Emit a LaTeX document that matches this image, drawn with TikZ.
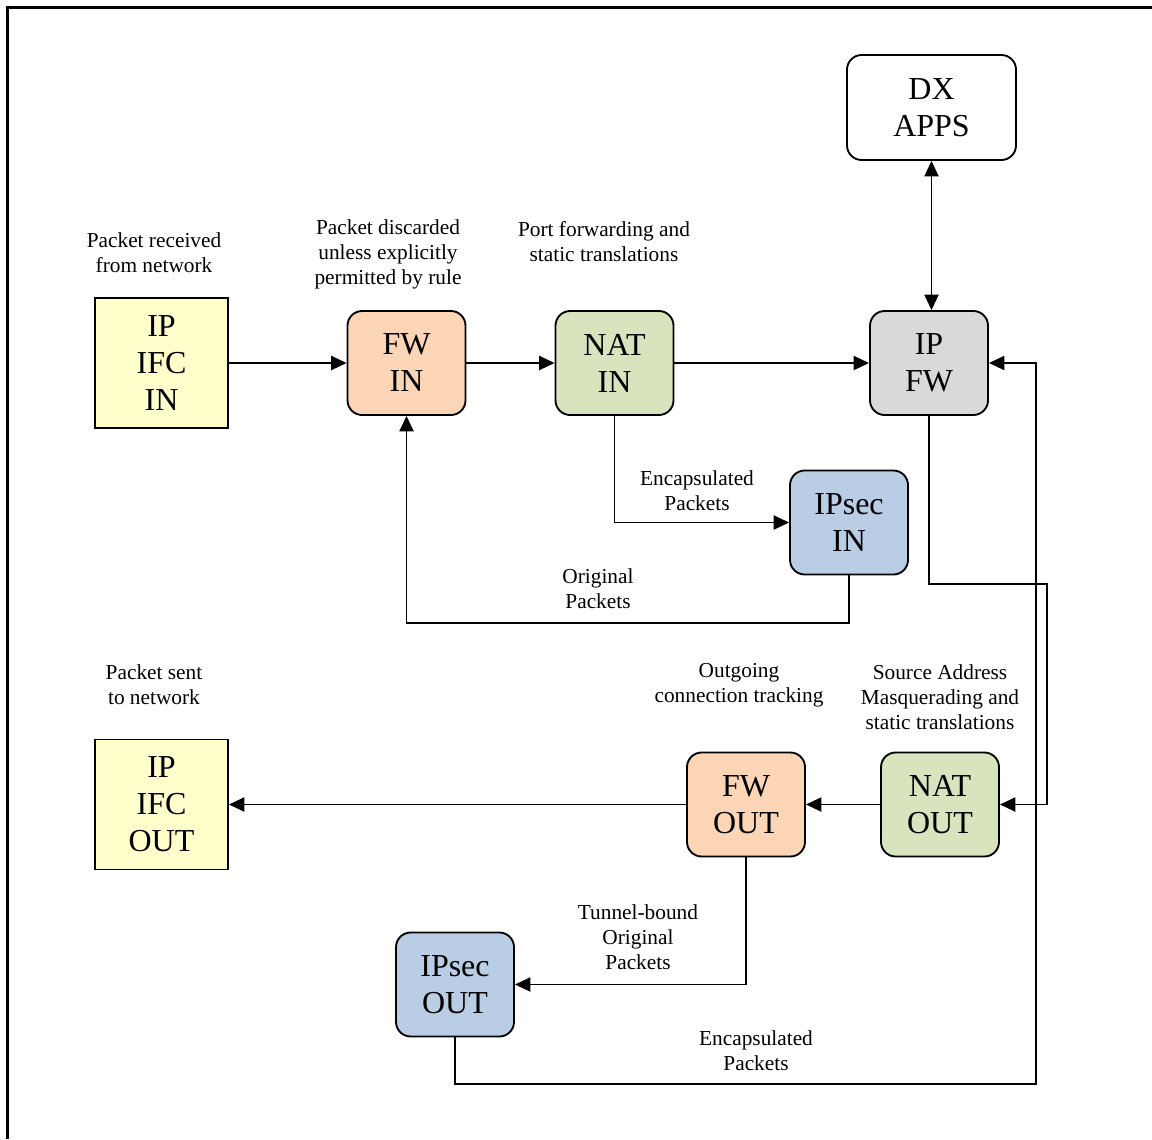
\documentclass[tikz,border=0pt]{standalone}
\usepackage{fontspec}
\setmainfont{Liberation Serif}
\usetikzlibrary{arrows.meta}
\begin{document}
\begin{tikzpicture}[x=0.75pt,y=-0.75pt,
  box/.style={draw=black,line width=1.4pt,align=center,inner sep=0pt,
    font=\fontsize{24}{27.75}\selectfont},
  sqbox/.style={box,minimum width=99.75pt,minimum height=97.5pt},
  rbox/.style={box,rounded corners=11pt,minimum width=88.5pt,minimum height=78pt},
  lbl/.style={align=center,inner sep=0pt,font=\fontsize{16}{18.75}\selectfont},
  arr/.style={line width=1.4pt,-{Triangle[length=11.5pt,width=10.5pt]}},
  darr/.style={line width=1.4pt,{Triangle[length=11.5pt,width=10.5pt]}-{Triangle[length=11.5pt,width=10.5pt]}}]
\useasboundingbox (0,0) rectangle (1152,1139);
% frame
\draw[line width=1.9pt] (7.5,1139) -- (7.5,7.5) -- (1152,7.5);

% blocks
\node[sqbox,fill={rgb,255:red,255;green,255;blue,204}] (ipin) at (161.5,363) {IP\\IFC\\IN};
\node[rbox,fill={rgb,255:red,251;green,213;blue,181}] (fwin) at (406.5,363) {FW\\IN};
\node[rbox,fill={rgb,255:red,215;green,228;blue,189}] (natin) at (614.5,363) {NAT\\IN};
\node[rbox,fill={rgb,255:red,217;green,217;blue,217}] (ipfw) at (929,363) {IP\\FW};
\node[rbox,fill=white,minimum width=126.75pt,minimum height=78.75pt] (dx) at (931.5,107.5) {DX\\APPS};
\node[rbox,fill={rgb,255:red,185;green,205;blue,229}] (ipsecin) at (849,522.5) {IPsec\\IN};
\node[sqbox,fill={rgb,255:red,255;green,255;blue,204}] (ipout) at (161.5,804.5) {IP\\IFC\\OUT};
\node[rbox,fill={rgb,255:red,251;green,213;blue,181}] (fwout) at (746,804.5) {FW\\OUT};
\node[rbox,fill={rgb,255:red,215;green,228;blue,189}] (natout) at (940,804.5) {NAT\\OUT};
\node[rbox,fill={rgb,255:red,185;green,205;blue,229}] (ipsecout) at (455,984.5) {IPsec\\OUT};

% labels
\node[lbl] (l1) at (154,253) {Packet received\\from network};
\node[lbl] (l2) at (388,254) {Packet discarded\\unless explicitly\\permitted by rule};
\node[lbl] (l3) at (604,242) {Port forwarding and\\static translations};
\node[lbl] (l4) at (697,491) {Encapsulated\\Packets};
\node[lbl] (l5) at (598,589) {Original\\Packets};
\node[lbl] (l6) at (154,685) {Packet sent\\to network};
\node[lbl] (l7) at (739,685) {Outgoing\\connection tracking};
\node[lbl] (l8) at (940,697) {Source Address\\Masquerading and\\static translations};
\node[lbl] (l9) at (638,937) {Tunnel-bound\\Original\\Packets};
\node[lbl] (l10) at (756,1051) {Encapsulated\\Packets};

% routing points
\coordinate (c1) at (849,623);
\coordinate (r1) at (1047,584);
\coordinate (r2) at (1036,1084);

% connectors
\draw[arr] (ipin) -- (fwin);
\draw[arr] (fwin) -- (natin);
\draw[arr] (natin) -- (ipfw);
\draw[darr] (dx.south) -- (dx.south |- ipfw.north);
\draw[arr] (natin.south) |- (ipsecin.west);
\draw[arr] (ipsecin.south) -- (c1) -| (fwin.south);
\draw[arr] (ipfw.south) |- (r1) |- (natout.east);
\draw[arr] (natout) -- (fwout);
\draw[arr] (fwout) -- (ipout);
\draw[arr] (fwout.south) |- (ipsecout.east);
\draw[arr] (ipsecout.south) |- (r2) |- (ipfw.east);
\end{tikzpicture}
\end{document}
